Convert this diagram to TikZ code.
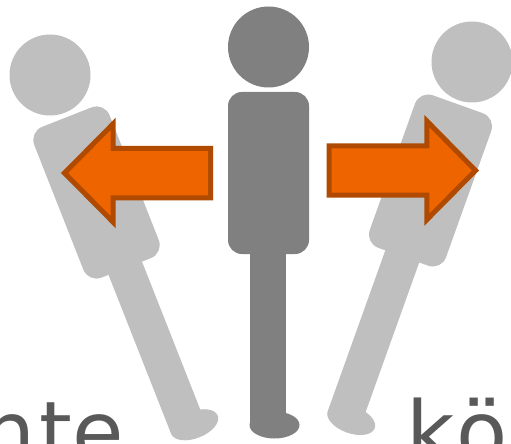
\documentclass[tikz,border=0pt]{standalone}
\usepackage{fontspec}
\setmainfont{DejaVu Sans}
\usepackage{tikz}
\definecolor{sideman}{HTML}{BFBFBF}
\definecolor{midman}{HTML}{808080}
\definecolor{arrowfill}{HTML}{EE6500}
\definecolor{arrowline}{HTML}{B04A00}
\definecolor{wordcol}{HTML}{595959}
\tikzset{
    block/.style = {draw=arrowline, fill=arrowfill, line width=5bp, miter limit=10},
    word/.style = {text=wordcol, font=\fontsize{84}{96}\selectfont, inner sep=0pt}
}
\newcommand{\person}[1]{
    \fill[#1] (-19,70) rectangle (17,252);
    \fill[#1] (6,252) ellipse (25 and 13.5);
    \fill[#1, rounded corners=14pt] (-40.5,-81) rectangle (40.5,81);
}
\begin{document}
\begin{tikzpicture}[x=1bp, y=-1bp]
    \useasboundingbox (0,0) rectangle (511,444);
    \clip (0,0) rectangle (511,444);

    \fill[sideman] (50,75) circle (40.5);
    \begin{scope}[shift={(96.5,192.5)}, rotate=21.5]
        \person{sideman}
    \end{scope}
    \fill[sideman] (472,62) circle (40.5);
    \begin{scope}[shift={(430.5,180.5)}, rotate=-19.7]
        \person{sideman}
    \end{scope}
    \fill[midman] (268.5,47) circle (40.5);
    \begin{scope}[shift={(268.5,173)}]
        \person{midman}
    \end{scope}

    \draw[block] (210.5,148.5) -- (113,148.5) -- (113,124) -- (64.5,173)
        -- (113,222) -- (113,198) -- (210.5,198) -- cycle;
    \draw[block] (329.2,145.8) -- (426.8,145.8) -- (426.8,121) -- (475.5,170.5)
        -- (426.8,219.7) -- (426.8,195.2) -- (329.2,195.2) -- cycle;

    \node[word, anchor=base east] (nte) at (124,461) {n\kern4bp te};
    \node[word, anchor=base west] (koe) at (406.5,461) {k\kern1.5bp ö};
\end{tikzpicture}
\end{document}
